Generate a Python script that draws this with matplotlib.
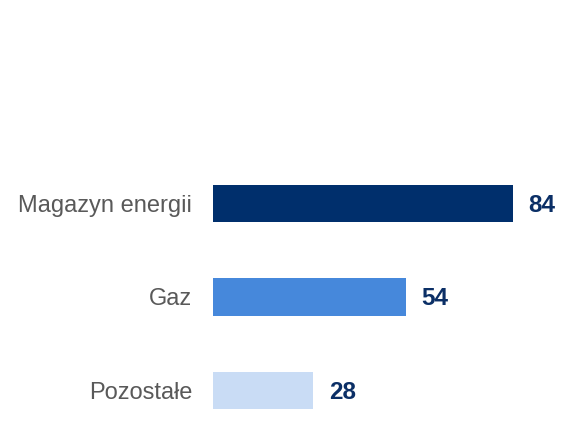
import matplotlib.pyplot as plt

kategorie = ['Magazyn energii', 'Gaz', 'Pozostałe']
wartosci = [84, 54, 28]
kolory = ['#002F6C', '#4688DB', '#C9DCF5']

plt.rcParams['font.family'] = ['Liberation Sans', 'DejaVu Sans']

fig = plt.figure(figsize=(5.65, 4.23), dpi=100)
ax = fig.add_axes([213 / 565, 0, 352 / 565, 1])

pozycje = list(range(len(kategorie)))
ax.barh(pozycje, wartosci, height=0.40, color=kolory)

for p, w in zip(pozycje, wartosci):
    ax.text(w + 4.4, p + 0.02, str(w), va='center', ha='left',
            fontsize=17.5, fontweight='bold', color='#0B2F66')

ax.set_xlim(0, 352 / 3.571)
ax.set_ylim(2.348, -2.176)

ax.set_yticks(pozycje)
ax.set_yticklabels(kategorie, fontsize=17, color='#595959')
ax.tick_params(axis='y', length=0, pad=15)
ax.set_xticks([])
for s in ax.spines.values():
    s.set_visible(False)

fig.savefig('out.png', dpi=100)
